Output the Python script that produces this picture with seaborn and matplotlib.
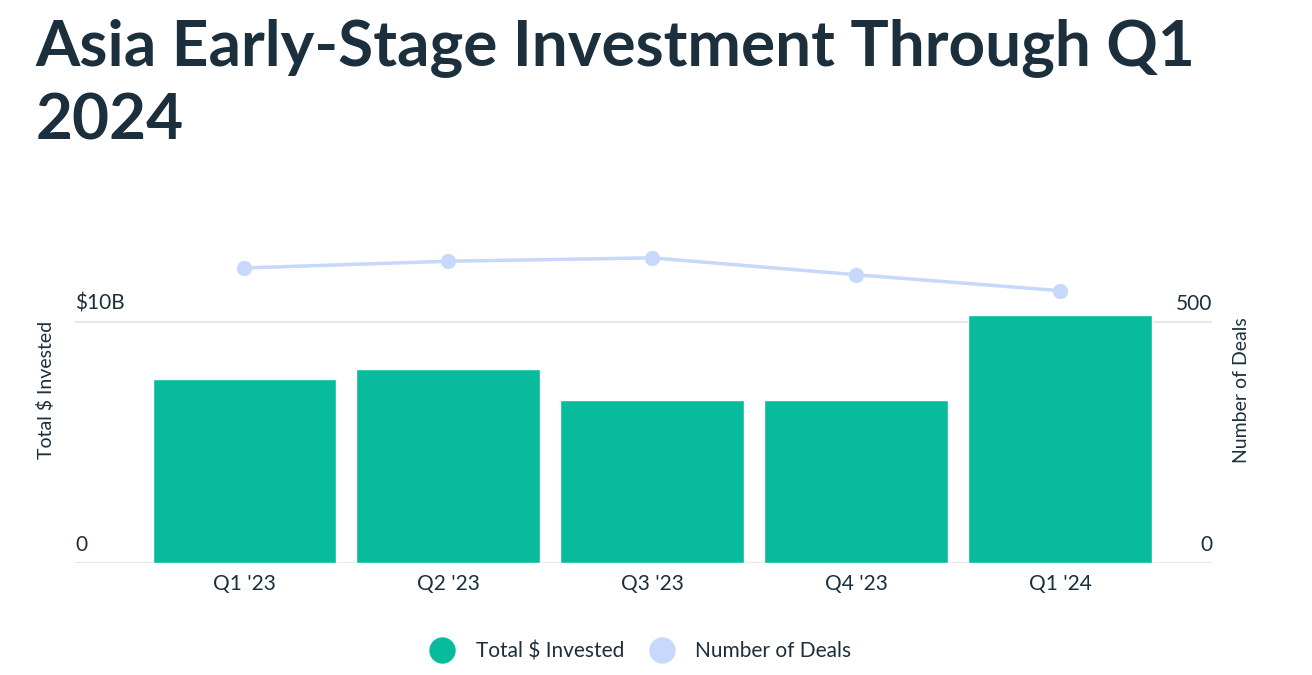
import pandas as pd
import seaborn as sns
import matplotlib.pyplot as plt
from matplotlib.lines import Line2D

quarters = ["Q1 '23", "Q2 '23", "Q3 '23", "Q4 '23", "Q1 '24"]
invested_b = [7.62, 8.03, 6.78, 6.78, 10.27]
deals = [612, 626, 633, 598, 565]

TEAL = "#07bb9c"
BLUE = "#c6d8fb"
INK = "#1b2f3d"
GRID = "#e4e7eb"

df = pd.DataFrame({"Quarter": quarters, "Invested": invested_b, "Deals": deals})

sns.set_theme(style="white")
plt.rcParams["font.family"] = ["Lato", "DejaVu Sans"]

fig = plt.figure(figsize=(13.12, 6.75), dpi=100)
ax = fig.add_axes([0.0572, 0.1659, 0.8666, 0.4785])

sns.barplot(data=df, x="Quarter", y="Invested", color=TEAL, width=0.9,
            saturation=1, ax=ax, zorder=2)
ax.set_ylim(0, 13.4)
ax.set_xlim(-0.83, 4.745)

ax2 = ax.twinx()
sns.lineplot(data=df, x="Quarter", y="Deals", color=BLUE, linewidth=2.5,
             marker="o", markersize=11, markeredgewidth=0, ax=ax2, zorder=3)
ax2.set_ylim(0, 670)

for a in (ax, ax2):
    for s in a.spines.values():
        s.set_visible(False)
    a.set_yticks([])
    a.set_ylabel("")
    a.set_xlabel("")

# gridlines at tick values
for v in [0, 10]:
    ax.axhline(v, color=GRID, linewidth=1.5, zorder=1)

# tick labels placed above gridlines
for v, lab in [(0, "0"), (10, "$10B")]:
    ax.annotate(lab, xy=(0, v), xycoords=ax.get_yaxis_transform(),
                xytext=(0, 6), textcoords="offset points",
                ha="left", va="bottom", fontsize=15, color=INK)
for v, lab in [(0, "0"), (500, "500")]:
    ax2.annotate(lab, xy=(1, v), xycoords=ax2.get_yaxis_transform(),
                 xytext=(0, 6), textcoords="offset points",
                 ha="right", va="bottom", fontsize=15, color=INK)

ax.tick_params(axis="x", length=0, pad=8, labelsize=15, labelcolor=INK)

fig.text(0.035, 0.422, "Total $ Invested", rotation=90, ha="center",
         va="center", fontsize=14, color=INK)
fig.text(0.946, 0.422, "Number of Deals", rotation=90, ha="center",
         va="center", fontsize=14, color=INK)

fig.text(0.027, 0.904, "Asia Early-Stage Investment Through Q1", fontsize=46,
         fontweight="bold", color=INK, ha="left", va="baseline")
fig.text(0.027, 0.793, "2024", fontsize=46, fontweight="bold", color=INK,
         ha="left", va="baseline")

handles = [
    Line2D([], [], marker="o", linestyle="", markersize=18, color=TEAL),
    Line2D([], [], marker="o", linestyle="", markersize=18, color=BLUE),
]
fig.legend(handles, ["Total $ Invested", "Number of Deals"], loc="center",
           bbox_to_anchor=(0.485, 0.035), ncol=2, frameon=False,
           fontsize=15, labelcolor=INK, handletextpad=0.6, columnspacing=0.8)

fig.savefig("out.png", dpi=100)
